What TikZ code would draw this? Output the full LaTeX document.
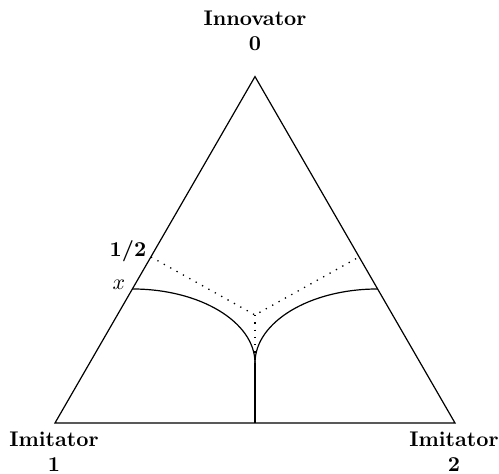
\documentclass[tikz,border=0pt]{standalone}
\begin{document}
\begin{tikzpicture}[x=0.5pt,y=-0.5pt,
  edge/.style={line width=0.6pt},
  dots/.style={line width=0.65pt,dash pattern=on 0.65pt off 3pt},
  lab/.style={inner sep=0pt,align=center,font=\fontsize{10.6}{12.5}\selectfont\bfseries}]
\useasboundingbox (0,0) rectangle (499,474);
% corners
\coordinate (A) at (255,76.6);
\coordinate (B) at (55,423);
\coordinate (C) at (455,423);
\draw[edge,line join=miter] (A) -- (B) -- (C) -- cycle;
% dotted lines
\coordinate (FL) at (151,257);
\coordinate (FR) at (359,257);
\coordinate (P) at (255,315);
\coordinate (Q) at (255,363);
\coordinate (D) at (255,423);
\draw[dots] (FL) -- (P) -- (FR);
\draw[dots] (P) -- (Q);
% solid curves
\coordinate (XL) at (132.5,289);
\coordinate (XR) at (377.5,289);
\draw[edge] (XL) .. controls (200,289) and (255,322) .. (Q);
\draw[edge] (XR) .. controls (310,289) and (255,322) .. (Q);
\draw[edge] (Q) -- (D);
% labels
\node[lab] (top) at (255,31) {Innovator\\0};
\node[lab] (left) at (54,452) {Imitator\\1};
\node[lab] (right) at (454,452) {Imitator\\2};
\node[lab] (half) at (128,251) {1/2};
\node[inner sep=0pt,font=\fontsize{10.6}{12.5}\selectfont] (xl) at (119,285) {$x$};
\end{tikzpicture}
\end{document}
